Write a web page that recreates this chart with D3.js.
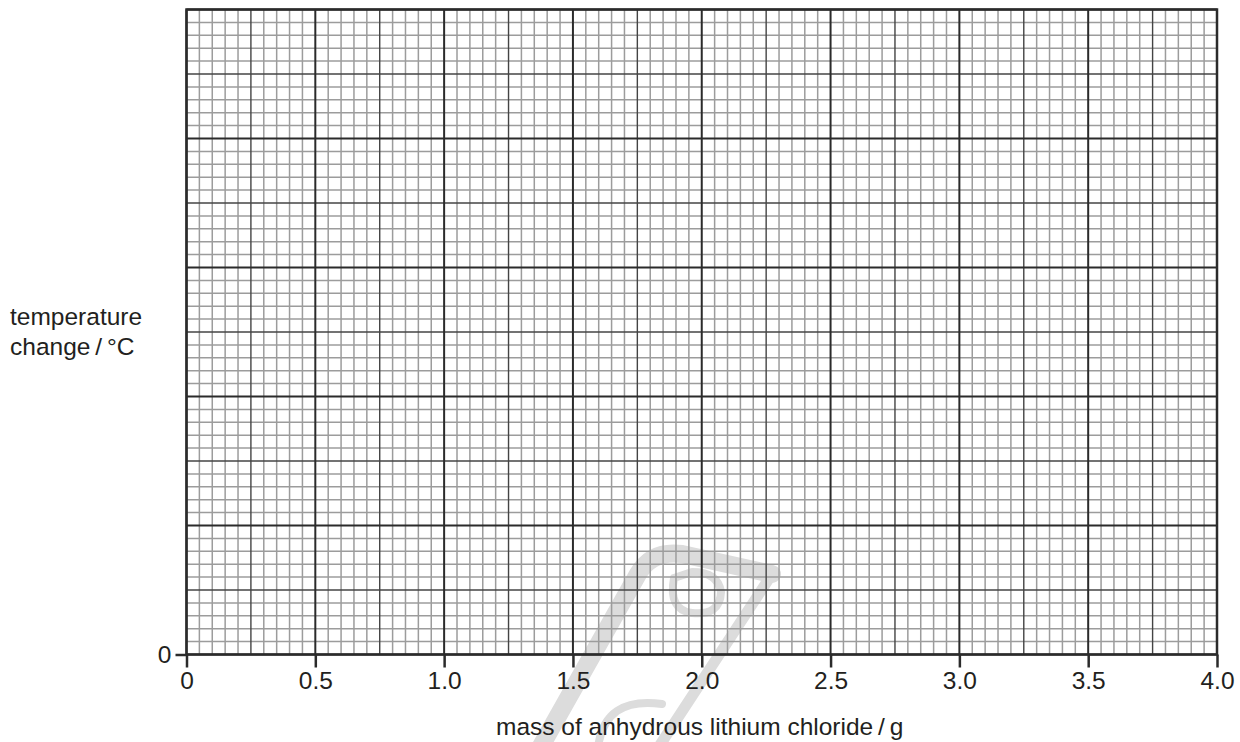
<!DOCTYPE html>
<html>
<head>
<meta charset="utf-8">
<script src="https://cdn.jsdelivr.net/npm/d3@7"></script>
<style>
  body { margin: 0; background: #fff; }
  text { font-family: "Liberation Sans", Arial, sans-serif; fill: #231f20; }
</style>
</head>
<body>
<div id="chart"></div>
<script>
// axis data
const xTicks = [0, 0.5, 1.0, 1.5, 2.0, 2.5, 3.0, 3.5, 4.0];
const xTickLabels = ["0", "0.5", "1.0", "1.5", "2.0", "2.5", "3.0", "3.5", "4.0"];
const yTicks = [0];
const yTickLabels = ["0"];
const xLabel = "mass of anhydrous lithium chloride\u2009/\u2009g";
const yLabelLines = ["temperature", "change\u2009/\u2009°C"];

// grid spacing (in axis units)
const xMinorStep = 0.05, xMediumStep = 0.25, xMajorStep = 0.5;
const yMinorStep = 0.1, yMediumStep = 0.5, yMajorStep = 1;
const xDomain = [0, 4];
const yDomain = [0, 5];

const width = 1240, height = 742;
const margin = { top: 9.5, right: 23, bottom: 87.5, left: 186.5 };
const innerW = width - margin.left - margin.right;
const innerH = height - margin.top - margin.bottom;
const fontSize = 24.5;

const svg = d3.select("#chart").append("svg")
    .attr("width", width)
    .attr("height", height);

// light watermark, sits under the grid
const wm = svg.append("g")
    .attr("fill", "none")
    .attr("stroke", "#dcdcdc")
    .attr("stroke-linejoin", "round")
    .attr("stroke-linecap", "round");
wm.append("path").attr("stroke-width", 18)
    .attr("d", "M540,748 L638,574 Q652,550 682,554 L772,574");
wm.append("path").attr("stroke-width", 11)
    .attr("d", "M772,574 L658,748");
wm.append("path").attr("stroke-width", 8)
    .attr("d", "M674,578 Q668,610 692,613 Q720,616 721,592 Q718,572 692,572 L674,578");
wm.append("path").attr("stroke-width", 8)
    .attr("d", "M598,748 Q604,696 662,704");

const g = svg.append("g")
    .attr("transform", "translate(" + margin.left + "," + margin.top + ")");

const x = d3.scaleLinear().domain(xDomain).range([0, innerW]);
const y = d3.scaleLinear().domain(yDomain).range([innerH, 0]);

// build grid line values, sorted into minor / medium / major
function gridValues(domain, minor, medium, major) {
    const n = Math.round((domain[1] - domain[0]) / minor);
    const rMaj = Math.round(major / minor), rMed = Math.round(medium / minor);
    const out = { minor: [], medium: [], major: [] };
    for (let i = 0; i <= n; i++) {
        const v = domain[0] + i * minor;
        if (i % rMaj === 0) out.major.push(v);
        else if (i % rMed === 0) out.medium.push(v);
        else out.minor.push(v);
    }
    return out;
}

const xg = gridValues(xDomain, xMinorStep, xMediumStep, xMajorStep);
const yg = gridValues(yDomain, yMinorStep, yMediumStep, yMajorStep);

const styles = {
    minor: { stroke: "#9c9c9c", width: 1.5 },
    medium: { stroke: "#444", width: 1.4 },
    major: { stroke: "#2b2b2b", width: 2 }
};

["minor", "medium", "major"].forEach(function (k) {
    g.append("g").selectAll("line")
        .data(xg[k])
        .join("line")
        .attr("x1", d => x(d)).attr("x2", d => x(d))
        .attr("y1", 0).attr("y2", innerH)
        .attr("stroke", styles[k].stroke)
        .attr("stroke-width", styles[k].width);

    g.append("g").selectAll("line")
        .data(yg[k])
        .join("line")
        .attr("y1", d => y(d)).attr("y2", d => y(d))
        .attr("x1", 0).attr("x2", innerW)
        .attr("stroke", styles[k].stroke)
        .attr("stroke-width", styles[k].width);
});

// outer frame
g.append("rect")
    .attr("x", 0).attr("y", 0)
    .attr("width", innerW).attr("height", innerH)
    .attr("fill", "none")
    .attr("stroke", "#2b2b2b")
    .attr("stroke-width", 2.5);

// axes
const xAxis = d3.axisBottom(x)
    .tickValues(xTicks)
    .tickFormat((d, i) => xTickLabels[i])
    .tickSize(13)
    .tickPadding(4);

const yAxis = d3.axisLeft(y)
    .tickValues(yTicks)
    .tickFormat((d, i) => yTickLabels[i])
    .tickSize(11)
    .tickPadding(4);

const xa = g.append("g")
    .attr("transform", "translate(0," + innerH + ")")
    .call(xAxis);
const ya = g.append("g").call(yAxis);

[xa, ya].forEach(function (a) {
    a.select(".domain").remove();
    a.selectAll(".tick line").attr("stroke", "#2b2b2b").attr("stroke-width", 2.5);
    a.selectAll(".tick text")
        .attr("font-size", fontSize)
        .attr("font-family", "Liberation Sans, Arial, sans-serif")
        .attr("fill", "#231f20");
});

// axis titles
svg.append("text")
    .attr("x", margin.left + innerW / 2 - 2)
    .attr("y", 735)
    .attr("text-anchor", "middle")
    .attr("font-size", fontSize)
    .text(xLabel);

svg.append("g").selectAll("text")
    .data(yLabelLines)
    .join("text")
    .attr("x", 10)
    .attr("y", (d, i) => 325 + i * 30)
    .attr("font-size", fontSize)
    .text(d => d);
</script>
</body>
</html>
